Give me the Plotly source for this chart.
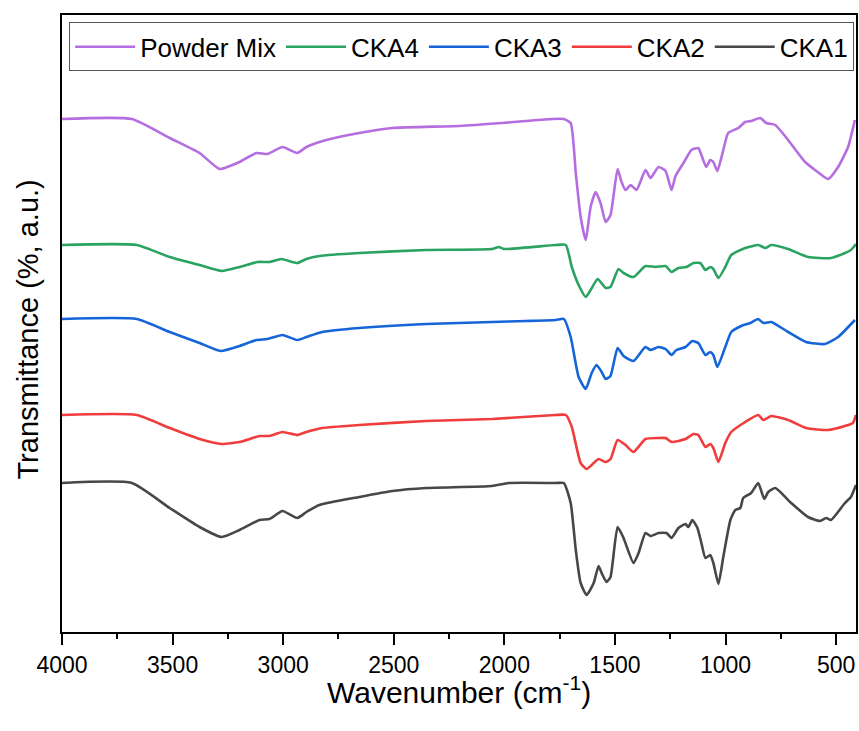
import plotly.graph_objects as go

# ---- data (wavenumber in cm^-1, transmittance in arbitrary offset units) ----
pm_wn = [4000, 3684, 3513, 3378, 3287, 3197, 3121, 3071, 3003, 2936,
         2895, 2850, 2805, 2656, 2507, 2205, 2011, 1903, 1786,
         1731, 1700, 1677, 1655, 1632, 1610, 1587, 1565, 1542, 1520,
         1488, 1470, 1452, 1429, 1402, 1362, 1339, 1303, 1271, 1244,
         1226, 1190, 1154, 1123, 1109, 1087, 1069, 1055, 1037, 1010,
         988, 942, 911, 884, 843, 816, 775, 717, 640, 595,
         536, 491, 446, 415]
pm_t = [51.3, 51.3, 49.4, 47.9, 46.3, 47.0, 47.9, 47.8, 48.5, 47.9,
        48.5, 48.9, 49.2, 49.9, 50.4, 50.6, 50.9, 51.1, 51.3,
        51.3, 50.9, 45.9, 41.5, 39.2, 42.5, 44.0, 42.9, 41.0, 41.7,
        46.3, 45.0, 44.2, 44.7, 44.2, 46.2, 45.4, 46.5, 46.1, 44.2,
        45.6, 46.9, 48.2, 48.4, 47.7, 46.5, 47.2, 47.0, 46.1, 48.2,
        49.9, 50.4, 51.0, 51.1, 51.4, 50.9, 50.7, 49.2, 47.0, 46.2,
        45.3, 46.5, 48.5, 51.2]

cka4_wn = [4000, 3662, 3513, 3378, 3278, 3197, 3116, 3062, 3008, 2936,
           2895, 2836, 2656, 2354, 2056, 2025, 2002, 1768,
           1722, 1695, 1664, 1632, 1610, 1578, 1542, 1520, 1484, 1461,
           1416, 1362, 1317, 1271, 1244, 1213, 1177, 1145, 1114, 1091,
           1069, 1055, 1032, 1001, 974, 911, 852, 820, 793, 717,
           627, 523, 460, 433, 410]
cka4_t = [38.7, 38.7, 37.5, 36.7, 36.1, 36.5, 37.0, 37.0, 37.3, 36.9,
          37.3, 37.6, 37.9, 38.2, 38.3, 38.5, 38.3, 38.7,
          38.7, 36.5, 34.7, 33.5, 34.2, 35.3, 34.4, 34.5, 36.3, 35.9,
          35.5, 36.6, 36.5, 36.6, 36.0, 36.4, 36.5, 36.9, 36.9, 36.2,
          36.5, 36.3, 35.4, 36.5, 37.7, 38.4, 38.7, 38.4, 38.7, 38.3,
          37.5, 37.4, 37.9, 38.2, 38.8]

cka3_wn = [4000, 3662, 3513, 3378, 3283, 3197, 3121, 3071, 3003, 2936,
           2895, 2823, 2656, 2354, 2056, 1903, 1768,
           1731, 1700, 1664, 1632, 1605, 1583, 1560, 1542, 1520,
           1488, 1461, 1416, 1362, 1339, 1303, 1271, 1244, 1222, 1181,
           1150, 1123, 1091, 1069, 1055, 1037, 1001, 974, 929, 888,
           852, 829, 793, 717, 636, 550, 491, 415]
cka3_t = [31.3, 31.3, 30.0, 28.9, 28.1, 28.6, 29.2, 29.3, 29.7, 29.2,
          29.5, 30.0, 30.4, 30.8, 31.0, 31.1, 31.2,
          31.3, 29.5, 25.5, 24.3, 25.9, 26.7, 26.0, 25.3, 25.6,
          28.4, 27.6, 27.1, 28.5, 28.2, 28.5, 28.3, 27.7, 28.2, 28.5,
          29.1, 28.9, 27.7, 28.0, 27.7, 26.5, 28.5, 30.0, 30.6, 30.9,
          31.3, 30.9, 31.0, 30.0, 29.0, 28.8, 29.5, 31.2]

cka2_wn = [4000, 3662, 3513, 3378, 3278, 3197, 3107, 3062, 3003, 2936,
           2895, 2823, 2656, 2354, 2056, 1768,
           1722, 1695, 1655, 1628, 1605, 1574, 1542, 1520, 1488, 1452,
           1416, 1362, 1303, 1271, 1244, 1181, 1145, 1123, 1091, 1069,
           1055, 1032, 1001, 974, 911, 852, 829, 793, 717, 636,
           536, 460, 424, 410]
cka2_t = [21.7, 21.7, 20.4, 19.3, 18.8, 19.0, 19.6, 19.6, 20.0, 19.7,
          20.0, 20.4, 20.7, 21.1, 21.3, 21.7,
          21.7, 20.5, 16.9, 16.3, 16.7, 17.3, 17.0, 17.3, 19.2, 18.7,
          18.0, 19.3, 19.4, 19.4, 19.0, 19.3, 19.8, 19.7, 18.5, 18.8,
          18.4, 17.0, 18.9, 20.0, 21.0, 21.7, 21.2, 21.6, 21.2, 20.4,
          20.2, 20.6, 20.9, 21.7]

cka1_wn = [4000, 3684, 3513, 3378, 3278, 3197, 3107, 3062, 3003, 2936,
           2895, 2836, 2656, 2507, 2354, 2056, 1980, 1768,
           1731, 1700, 1677, 1655, 1628, 1596, 1574, 1560, 1538, 1520,
           1488, 1461, 1416, 1393, 1362, 1339, 1303, 1267, 1244, 1213,
           1181, 1168, 1150, 1127, 1109, 1091, 1069, 1055, 1032, 1010,
           978, 956, 933, 920, 884, 852, 825, 807, 775, 703,
           627, 572, 545, 523, 460, 433, 410]
cka1_t = [14.9, 14.9, 12.4, 10.5, 9.5, 10.2, 11.2, 11.3, 12.1, 11.4,
          12.0, 12.7, 13.5, 14.1, 14.4, 14.6, 14.9, 14.9,
          14.9, 12.9, 8.2, 4.9, 3.7, 4.9, 6.6, 5.9, 5.0, 5.5,
          10.5, 9.4, 6.9, 7.9, 9.9, 9.6, 9.9, 9.9, 9.4, 10.4,
          10.8, 10.5, 11.2, 10.4, 8.9, 7.4, 7.7, 6.9, 4.8, 7.5,
          11.2, 12.2, 12.4, 13.4, 13.9, 14.9, 13.3, 14.0, 14.4, 12.9,
          11.5, 11.1, 11.4, 11.2, 12.9, 13.5, 14.7]

series_names = ["Powder Mix", "CKA4", "CKA3", "CKA2", "CKA1"]
series_x = [pm_wn, cka4_wn, cka3_wn, cka2_wn, cka1_wn]
series_y = [pm_t, cka4_t, cka3_t, cka2_t, cka1_t]
series_colors = ["#B46EE0", "#2BA360", "#1565D8", "#F03C3C", "#474747"]

x_tickvals = [4000, 3500, 3000, 2500, 2000, 1500, 1000, 500]
x_title = "Wavenumber (cm<sup>-1</sup>)"
y_title = "Transmittance (%, a.u.)"

FONT = "Liberation Sans, Arial, sans-serif"

fig = go.Figure()
for name, xs, ys, col in zip(series_names, series_x, series_y, series_colors):
    fig.add_trace(go.Scatter(
        x=xs, y=ys, name=name, mode="lines",
        line=dict(color=col, width=2.6, shape="spline", smoothing=0.5),
    ))

fig.update_layout(
    width=859, height=731,
    margin=dict(l=62, r=3, t=15, b=99),
    paper_bgcolor="white", plot_bgcolor="white",
    font=dict(family=FONT, color="black"),
    showlegend=True,
    legend=dict(
        orientation="h", x=0.009, y=0.988, xanchor="left", yanchor="top",
        bgcolor="white", bordercolor="#555555", borderwidth=1,
        font=dict(size=26, family=FONT, color="black"),
        itemwidth=60, traceorder="normal", tracegroupgap=0,
    ),
    xaxis=dict(
        range=[4000, 410], autorange=False, automargin=False,
        tickvals=x_tickvals, ticks="outside", ticklen=11, tickwidth=1.5,
        tickcolor="black",
        minor=dict(dtick=250, ticks="outside", ticklen=5, tickwidth=1.5,
                   tickcolor="black", tick0=0),
        showline=True, linecolor="black", linewidth=2, mirror=True,
        showgrid=False, zeroline=False,
        tickfont=dict(size=23, family=FONT),
    ),
    yaxis=dict(
        range=[0, 61.7], autorange=False, automargin=False,
        showticklabels=False, ticks="",
        showline=True, linecolor="black", linewidth=2, mirror=True,
        showgrid=False, zeroline=False,
    ),
    annotations=[
        dict(text=x_title, xref="paper", yref="paper", x=0.5, y=-0.094,
             xanchor="center", yanchor="middle", showarrow=False,
             font=dict(size=30, family=FONT, color="black")),
        dict(text=y_title, xref="paper", yref="paper", x=-0.043, y=0.49,
             xanchor="center", yanchor="middle", showarrow=False,
             textangle=-90,
             font=dict(size=29, family=FONT, color="black")),
    ],
)

fig.write_html(
    "out.html",
    config={"displayModeBar": False},
    post_script="document.body.style.margin='0';document.body.style.overflow='hidden';",
)
